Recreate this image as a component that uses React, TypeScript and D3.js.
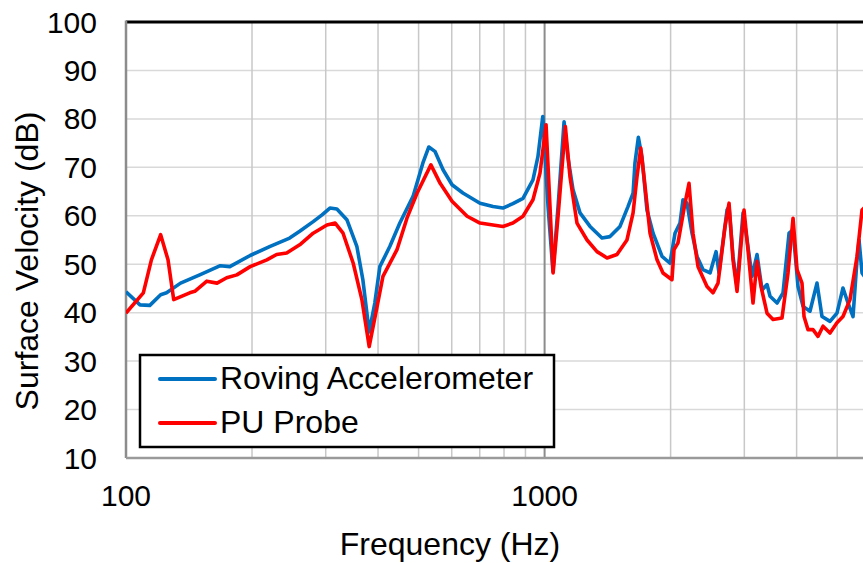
import React from 'react'
import * as d3 from 'd3'

// frequency (Hz) / level (dB)
const rovingFreq = [100, 108, 114, 121, 125, 135, 150, 168, 177, 198, 221, 246, 260, 280, 294, 307, 319, 337, 356, 368, 381, 393, 404, 427, 451, 485, 512, 529, 547, 572, 601, 638, 701, 753, 795, 840, 888, 938, 964, 990, 1019, 1047, 1077, 1113, 1137, 1169, 1215, 1284, 1371, 1433, 1514, 1582, 1627, 1644, 1675, 1709, 1756, 1816, 1908, 1993, 2049, 2106, 2141, 2189, 2250, 2313, 2390, 2485, 2568, 2610, 2728, 2758, 2819, 2882, 2979, 3045, 3130, 3217, 3307, 3399, 3456, 3592, 3712, 3837, 3922, 4031, 4144, 4305, 4474, 4599, 4806, 4994, 5162, 5306, 5455, 5576, 5638, 5732, 5860]
const rovingDb = [44.3, 41.6, 41.5, 43.7, 44.1, 46.1, 47.8, 49.7, 49.5, 51.8, 53.7, 55.4, 56.8, 58.8, 60.2, 61.6, 61.4, 59.2, 53.7, 46.8, 36, 42, 49.5, 53.7, 58.5, 64, 70.9, 74.2, 73.3, 69.5, 66.4, 64.7, 62.6, 61.9, 61.6, 62.5, 63.6, 67.4, 72.2, 80.5, 62, 48.5, 62, 79.4, 72, 65.4, 60.6, 57.8, 55.4, 55.7, 57.8, 61.9, 64.7, 70.9, 76.2, 72, 61.2, 56.4, 51.6, 50.2, 56.4, 58.5, 63.3, 62.6, 56.4, 51.6, 48.9, 48.2, 52.6, 48.2, 61.2, 61.9, 51.6, 45.4, 60.6, 55, 47.5, 52, 44.7, 45.8, 43.4, 42, 44.1, 56.4, 57.1, 45.4, 41.3, 40.3, 46.1, 39.2, 38.2, 39.9, 45.1, 42, 39.2, 50.9, 55, 48.2, 47]

const probeFreq = [100, 110, 115, 121, 126, 130, 142, 146, 156, 165, 174, 184, 198, 217, 229, 242, 260, 280, 302, 316, 330, 349, 366, 381, 398, 411, 444, 469, 496, 535, 563, 601, 653, 701, 753, 795, 840, 888, 938, 975, 1008, 1030, 1048, 1077, 1121, 1150, 1195, 1263, 1334, 1410, 1489, 1573, 1627, 1662, 1697, 1728, 1786, 1856, 1918, 2015, 2038, 2083, 2165, 2213, 2262, 2326, 2443, 2525, 2596, 2698, 2758, 2819, 2882, 2995, 3061, 3147, 3217, 3289, 3399, 3513, 3691, 3815, 3922, 4009, 4120, 4166, 4258, 4377, 4499, 4625, 4806, 4994, 5162, 5365, 5576, 5732, 5860]
const probeDb = [39.9, 44.1, 50.9, 56.1, 50.9, 42.7, 44.1, 44.4, 46.5, 46.1, 47.2, 47.8, 49.5, 50.9, 52, 52.3, 54, 56.4, 58.1, 58.5, 56.4, 50.2, 42.7, 33, 41.3, 47.5, 53, 59.5, 64.7, 70.5, 66.7, 63, 59.9, 58.5, 58.1, 57.8, 58.5, 59.9, 63.3, 68.8, 78.8, 62, 48.2, 60, 78.4, 68, 58.5, 55, 52.6, 51.3, 52, 55, 60.6, 68, 74, 68, 56.4, 50.9, 48.2, 46.8, 53, 54.4, 62.6, 66.7, 56.4, 49.5, 45.4, 44.1, 46.1, 57.8, 62.6, 50.9, 44.4, 61.2, 53, 42, 50.6, 45.4, 39.9, 38.6, 38.9, 48.2, 59.5, 48.9, 46.1, 39.2, 36.5, 36.5, 35.1, 37.2, 35.8, 37.9, 39.2, 42.7, 51.6, 61.2, 62]

const yTicks = [10, 20, 30, 40, 50, 60, 70, 80, 90, 100]
const xLabels = [100, 1000]
const legendNames = ['Roving Accelerometer', 'PU Probe']
const colors = ['#0070C0', '#FF0000']

export default function App() {
  const width = 863
  const height = 563
  const left = 126
  const top = 22
  const bottom = 458
  const decade = 418.6

  const x = d3.scaleLog().domain([100, 10000]).range([left, left + 2 * decade])
  const y = d3.scaleLinear().domain([10, 100]).range([bottom, top])

  const minor = d3.range(2, 10).map(d => d * 100).concat(d3.range(2, 10).map(d => d * 1000))

  const line = d3.line<[number, number]>()
    .x(d => x(d[0]))
    .y(d => y(d[1]))

  const series = [
    d3.zip(rovingFreq, rovingDb) as [number, number][],
    d3.zip(probeFreq, probeDb) as [number, number][]
  ]

  const font = 'Liberation Sans, Arial, sans-serif'

  return (
    <svg width={width} height={height} style={{ position: 'absolute', left: 0, top: 0, background: '#fff' }} fontFamily={font}>
      <defs>
        <clipPath id="plot">
          <rect x={left} y={top} width={x(10000) - left} height={bottom - top} />
        </clipPath>
      </defs>

      {yTicks.map(t => (
        <line key={'h' + t} x1={left} x2={width} y1={y(t)} y2={y(t)} stroke="#d9d9d9" strokeWidth={1.5} />
      ))}
      {minor.map(f => (
        <line key={'v' + f} x1={x(f)} x2={x(f)} y1={top} y2={bottom} stroke="#c8c8c8" strokeWidth={1.5} />
      ))}
      <line x1={x(1000)} x2={x(1000)} y1={top} y2={bottom} stroke="#8c8c8c" strokeWidth={2} />

      <line x1={left} x2={width} y1={top} y2={top} stroke="#000" strokeWidth={3} />
      <line x1={left} x2={left} y1={top - 1.5} y2={bottom} stroke="#8c8c8c" strokeWidth={2.5} />
      <line x1={left} x2={width} y1={bottom} y2={bottom} stroke="#9a9a9a" strokeWidth={2.5} />

      <g clipPath="url(#plot)">
        {series.map((s, i) => (
          <path key={i} d={line(s) || ''} fill="none" stroke={colors[i]} strokeWidth={3.6} strokeLinejoin="round" />
        ))}
      </g>

      {yTicks.map(t => (
        <text key={'yl' + t} x={97} y={y(t)} dy="0.35em" textAnchor="end" fontSize={30}>{t}</text>
      ))}
      {xLabels.map(t => (
        <text key={'xl' + t} x={x(t)} y={506} textAnchor="middle" fontSize={30}>{t}</text>
      ))}

      <text x={450} y={555} textAnchor="middle" fontSize={32}>Frequency (Hz)</text>
      <text transform="translate(38,261) rotate(-90)" textAnchor="middle" fontSize={32}>Surface Velocity (dB)</text>

      <rect x={140} y={355} width={414} height={92} fill="#fff" stroke="#000" strokeWidth={2.5} />
      {legendNames.map((n, i) => (
        <g key={n}>
          <line x1={160} x2={215} y1={379 + i * 44} y2={379 + i * 44} stroke={colors[i]} strokeWidth={4} strokeLinecap="round" />
          <text x={220} y={389 + i * 44} fontSize={32}>{n}</text>
        </g>
      ))}
    </svg>
  )
}
